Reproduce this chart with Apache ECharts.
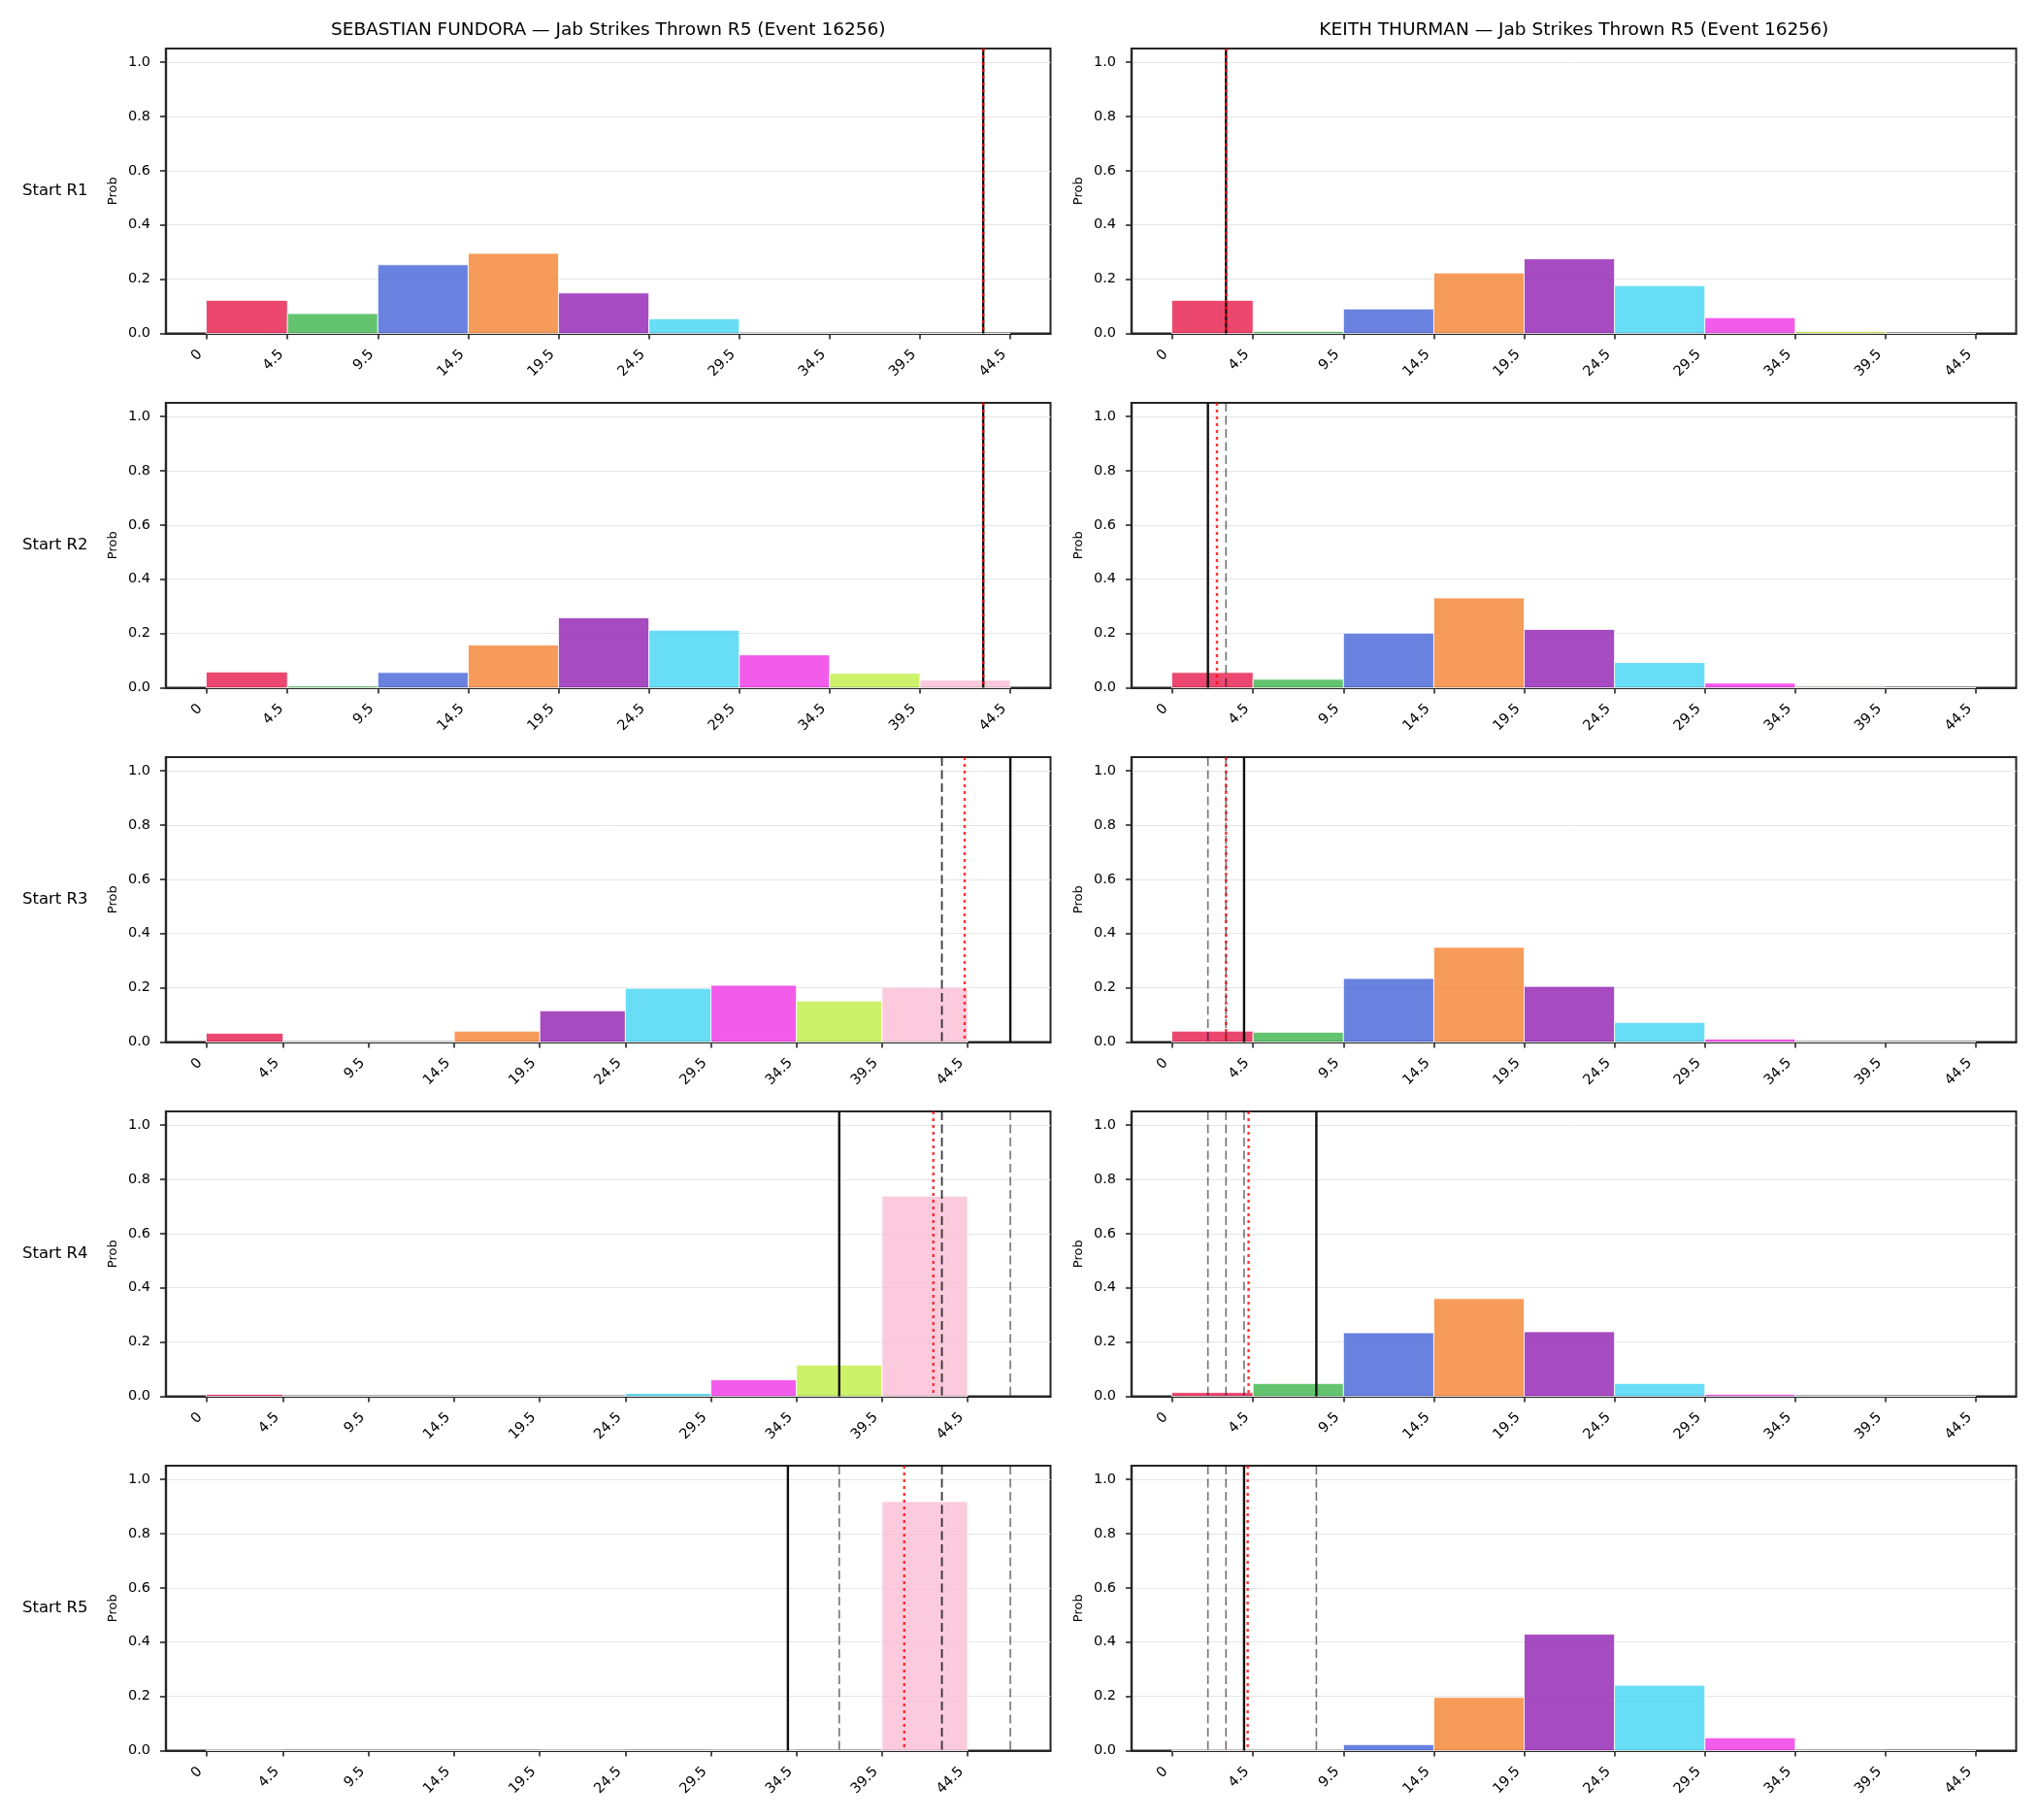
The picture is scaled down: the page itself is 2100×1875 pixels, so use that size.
<!DOCTYPE html>
<html>
<head>
<meta charset="utf-8">
<script src="https://cdn.jsdelivr.net/npm/echarts@6/dist/echarts.min.js"></script>
<style>
html,body{margin:0;padding:0;background:#fff;}
#main{width:2100px;height:1875px;}
</style>
</head>
<body>
<div id="main"></div>
<script>
// bins of the histogram (edges) and their tick labels
const binEdges = [0, 4.5, 9.5, 14.5, 19.5, 24.5, 29.5, 34.5, 39.5, 44.5];
const tickLabels = ['0', '4.5', '9.5', '14.5', '19.5', '24.5', '29.5', '34.5', '39.5', '44.5'];
const yTicks = [0, 0.2, 0.4, 0.6, 0.8, 1.0];
const binColors = ['#e6194b', '#3cb44b', '#4363d8', '#f58231', '#911eb4', '#42d4f4', '#f032e6', '#bfef45', '#fabed4'];
const roundLabels = ['Start R1', 'Start R2', 'Start R3', 'Start R4', 'Start R5'];
const fighters = ['SEBASTIAN FUNDORA', 'KEITH THURMAN'];
const titleSuffix = ' \u2014 Jab Strikes Thrown R5 (Event 16256)';

// probabilities per bin, one array per start round
const fundoraR1 = [0.122, 0.073, 0.253, 0.295, 0.149, 0.054, 0.002, 0.001, 0];
const fundoraR2 = [0.058, 0.006, 0.056, 0.157, 0.258, 0.212, 0.121, 0.053, 0.028];
const fundoraR3 = [0.032, 0.002, 0.002, 0.040, 0.115, 0.198, 0.209, 0.151, 0.202];
const fundoraR4 = [0.007, 0.001, 0.001, 0.001, 0.001, 0.011, 0.061, 0.115, 0.738];
const fundoraR5 = [0.002, 0.001, 0.001, 0.001, 0.002, 0.001, 0.002, 0.001, 0.918];

const thurmanR1 = [0.122, 0.007, 0.090, 0.223, 0.275, 0.176, 0.058, 0.007, 0];
const thurmanR2 = [0.056, 0.031, 0.201, 0.331, 0.215, 0.093, 0.017, 0.002, 0];
const thurmanR3 = [0.040, 0.036, 0.234, 0.349, 0.205, 0.072, 0.011, 0.001, 0];
const thurmanR4 = [0.014, 0.047, 0.234, 0.360, 0.238, 0.047, 0.007, 0.001, 0];
const thurmanR5 = [0.002, 0.002, 0.022, 0.196, 0.429, 0.241, 0.047, 0.001, 0];

// vertical reference lines: solid = actual, dashed = earlier rounds, dotted red = running average
const fundoraActual = [43, 43, 47, 37, 34];
const fundoraPrior = [[], [43], [43, 43], [43, 43, 47], [43, 43, 47, 37]];
const fundoraAvg = [43, 43, 44.33, 42.5, 40.8];

const thurmanActual = [3, 2, 4, 8, 4];
const thurmanPrior = [[], [3], [3, 2], [3, 2, 4], [3, 2, 4, 8]];
const thurmanAvg = [3, 2.5, 3, 4.25, 4.2];

const probs = [
  [fundoraR1, fundoraR2, fundoraR3, fundoraR4, fundoraR5],
  [thurmanR1, thurmanR2, thurmanR3, thurmanR4, thurmanR5]
];
const actual = [fundoraActual, thurmanActual];
const prior = [fundoraPrior, thurmanPrior];
const avg = [fundoraAvg, thurmanAvg];

const Y_MAX = 1.05;
const FONT = 'DejaVu Sans';
const colLeft = [171, 1166];
const rowTop = [50, 415, 780, 1145, 1510];
const gridW = 911.5;
const gridH = 293.5;

var chart = echarts.init(document.getElementById('main'), null, {renderer: 'canvas'});

var grids = [], xAxes = [], yAxes = [], series = [], graphics = [];

for (let c = 0; c < 2; c++) {
  graphics.push({
    type: 'text', x: colLeft[c] + gridW / 2, y: 31,
    style: {text: fighters[c] + titleSuffix, font: '18.5px "' + FONT + '"', fill: '#000',
      textAlign: 'center', textVerticalAlign: 'middle'}
  });
}

for (let r = 0; r < 5; r++) {
  graphics.push({
    type: 'text', x: 23, y: rowTop[r] + gridH / 2,
    style: {text: roundLabels[r], font: '16.5px "' + FONT + '"', fill: '#000',
      textAlign: 'left', textVerticalAlign: 'middle'}
  });
  for (let c = 0; c < 2; c++) {
    let idx = grids.length;
    let lines = [];
    prior[c][r].forEach(function (v) { lines.push([v, 0]); });
    lines.push([actual[c][r], 1]);
    lines.push([avg[c][r], 2]);

    let hi = 44.5;
    lines.forEach(function (l) { if (l[0] > hi) hi = l[0]; });
    let pad = hi * 0.05;

    grids.push({left: colLeft[c], top: rowTop[r], width: gridW, height: gridH,
      show: true, borderColor: '#262626', borderWidth: 2, backgroundColor: '#fff'});

    // left spine of the axes box
    graphics.push({
      type: 'rect', z: 100, silent: true,
      shape: {x: colLeft[c] - 1.2, y: rowTop[r] - 1, width: 2.4, height: gridH + 2},
      style: {fill: '#262626'}
    });

    xAxes.push({
      type: 'value', gridIndex: idx, min: -pad, max: hi + pad,
      splitLine: {show: false},
      axisLine: {show: true, onZero: false, lineStyle: {color: '#262626', width: 2}},
      axisTick: {show: true, customValues: binEdges, length: 6, lineStyle: {color: '#262626', width: 1.6}},
      axisLabel: {show: true, customValues: binEdges, rotate: 45, margin: 13, padding: [0, 9, 0, 0],
        fontFamily: FONT, fontSize: 14.5, color: '#000',
        formatter: function (v) {
          var i = binEdges.indexOf(v);
          return i >= 0 ? tickLabels[i] : '';
        }}
    });

    yAxes.push({
      type: 'value', gridIndex: idx, min: 0, max: Y_MAX, interval: 0.2,
      name: 'Prob', nameLocation: 'middle', nameGap: 48, nameRotate: 90,
      nameTextStyle: {fontFamily: FONT, fontSize: 13, color: '#000'},
      splitLine: {show: true, lineStyle: {color: '#e6e6e6', width: 1}},
      axisLine: {show: true, onZero: false, lineStyle: {color: '#262626', width: 2}},
      axisTick: {show: true, customValues: yTicks, length: 6, lineStyle: {color: '#262626', width: 1.6}},
      axisLabel: {show: true, customValues: yTicks, margin: 16, fontFamily: FONT, fontSize: 14.5, color: '#000',
        formatter: function (v) { return v.toFixed(1); }}
    });

    let bars = [];
    for (let i = 0; i < 9; i++) {
      bars.push([binEdges[i], binEdges[i + 1], probs[c][r][i]]);
    }

    series.push({
      type: 'custom', xAxisIndex: idx, yAxisIndex: idx,
      data: bars, encode: {x: [0, 1], y: 2},
      renderItem: function (params, api) {
        var p0 = api.coord([api.value(0), api.value(2)]);
        var p1 = api.coord([api.value(1), 0]);
        return {
          type: 'rect',
          shape: {x: p0[0], y: p0[1], width: p1[0] - p0[0], height: p1[1] - p0[1]},
          style: {fill: binColors[params.dataIndex], stroke: '#ffffff', lineWidth: 1, opacity: 0.8}
        };
      },
      z: 2
    });

    series.push({
      type: 'custom', xAxisIndex: idx, yAxisIndex: idx,
      data: lines, encode: {x: 0},
      renderItem: function (params, api) {
        var x = api.value(0);
        var kind = api.value(1);
        var top = api.coord([x, Y_MAX]);
        var bot = api.coord([x, 0]);
        var style;
        if (kind === 0) {
          style = {stroke: 'rgba(0,0,0,0.55)', lineWidth: 1.6, lineDash: [9, 4.5]};
        } else if (kind === 1) {
          style = {stroke: '#111111', lineWidth: 2.4};
        } else {
          style = {stroke: 'rgba(255,0,0,0.8)', lineWidth: 2.4, lineDash: [3, 4]};
        }
        return {type: 'line', shape: {x1: top[0], y1: top[1], x2: bot[0], y2: bot[1]}, style: style};
      },
      z: 3
    });
  }
}

chart.setOption({
  backgroundColor: '#ffffff',
  animation: false,
  grid: grids,
  xAxis: xAxes,
  yAxis: yAxes,
  series: series,
  graphic: graphics
});
</script>
</body>
</html>
